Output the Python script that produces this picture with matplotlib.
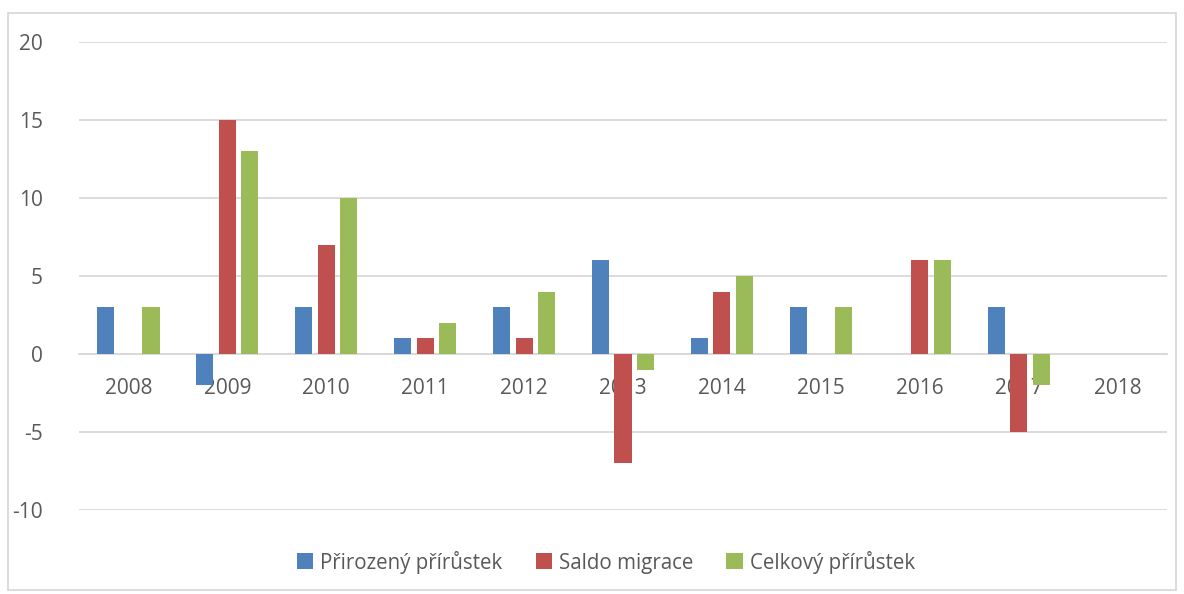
import matplotlib.pyplot as plt
import numpy as np
from matplotlib.patches import Rectangle

# --- data ---
years = ['2008', '2009', '2010', '2011', '2012', '2013', '2014', '2015', '2016', '2017', '2018']
prirozeny = [3, -2, 3, 1, 3, 6, 1, 3, 0, 3, 0]
saldo = [0, 15, 7, 1, 1, -7, 4, 0, 6, -5, 0]
celkovy = [3, 13, 10, 2, 4, -1, 5, 3, 6, -2, 0]
labels = ['Přirozený přírůstek', 'Saldo migrace', 'Celkový přírůstek']
colors = ['#4F81BD', '#C0504D', '#9BBB59']

plt.rcParams['font.family'] = ['Open Sans', 'DejaVu Sans']
plt.rcParams['axes.unicode_minus'] = False
txt = '#595959'
grid = '#D9D9D9'

fig = plt.figure(figsize=(11.84, 5.94), dpi=100)
ax = fig.add_axes([79/1184, 1 - 510/594, (1167-79)/1184, (510-42)/594])

x = np.arange(len(years))
w = 0.172; step = 0.228
for i, (vals, c, lab) in enumerate(zip([prirozeny, saldo, celkovy], colors, labels)):
    ax.bar(x + (i - 1) * step, vals, width=w, color=c, label=lab, zorder=3)

ax.set_xlim(-0.5, len(years) - 0.5)
ax.set_ylim(-10, 20)
ax.set_yticks(range(-10, 21, 5))
ax.yaxis.grid(True, color=grid, linewidth=1.3, zorder=0)
ax.set_axisbelow(True)

for s in ['top', 'right', 'left']:
    ax.spines[s].set_visible(False)
ax.spines['bottom'].set_position(('data', 0))
ax.spines['bottom'].set_color(grid)
ax.spines['bottom'].set_linewidth(1.3)

ax.set_xticks(x)
ax.set_xticklabels(years)
ax.tick_params(axis='x', length=0, pad=17, labelsize=15, labelcolor=txt)
ax.tick_params(axis='y', length=0, pad=26, labelsize=15, labelcolor=txt)

fig.legend(loc='center', bbox_to_anchor=(606/1184, 1 - 562/594), ncol=3, frameon=False,
           fontsize=14.8, labelcolor=txt, handlelength=0.8, handleheight=0.8,
           handletextpad=0.35, columnspacing=1.6)

fig.patches.append(Rectangle((8/1184, 1 - 590/594), (1176-8)/1184, (590-13)/594,
                             transform=fig.transFigure, fill=False, edgecolor=grid,
                             linewidth=1.3))

fig.savefig('out.png', dpi=100)
